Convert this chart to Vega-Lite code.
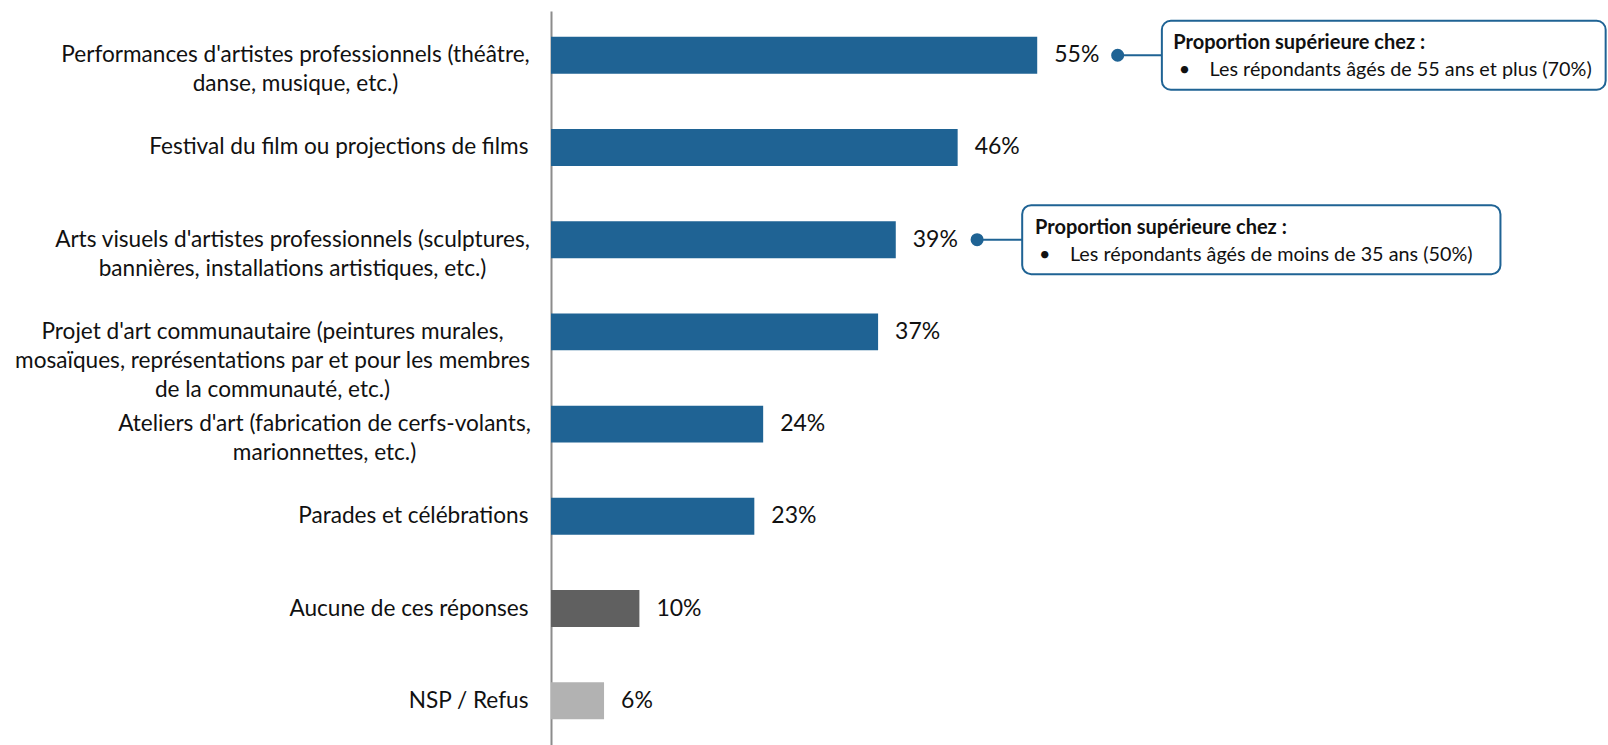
{
  "$schema": "https://vega.github.io/schema/vega-lite/v6.json",
  "width": 1052,
  "height": 734,
  "autosize": {"type": "none"},
  "padding": {"left": 551, "top": 11, "right": 5, "bottom": 0},
  "background": "white",
  "config": {"view": {"stroke": null}, "font": "Lato"},
  "datasets": {
    "bars": [
      {"item": "Performances d'artistes professionnels (théâtre,|danse, musique, etc.)", "share": 0.55, "group": "main"},
      {"item": "Festival du film ou projections de films", "share": 0.46, "group": "main"},
      {"item": "Arts visuels d'artistes professionnels (sculptures,|bannières, installations artistiques, etc.)", "share": 0.39, "group": "main"},
      {"item": "Projet d'art communautaire (peintures murales,|mosaïques, représentations par et pour les membres|de la communauté, etc.)", "share": 0.37, "group": "main"},
      {"item": "Ateliers d'art (fabrication de cerfs-volants,|marionnettes, etc.)", "share": 0.24, "group": "main"},
      {"item": "Parades et célébrations", "share": 0.23, "group": "main"},
      {"item": "Aucune de ces réponses", "share": 0.10, "group": "none"},
      {"item": "NSP / Refus", "share": 0.06, "group": "dk"}
    ],
    "notes": [
      {"item": "Performances d'artistes professionnels (théâtre,|danse, musique, etc.)", "dot": 0.641, "boxStart": 0.691, "boxEnd": 1.193, "titleX": 0.704, "bulletX": 0.710, "textX": 0.745, "title": "Proportion supérieure chez :", "body": "Les répondants âgés de 55 ans et plus (70%)"},
      {"item": "Arts visuels d'artistes professionnels (sculptures,|bannières, installations artistiques, etc.)", "dot": 0.482, "boxStart": 0.533, "boxEnd": 1.074, "titleX": 0.5475, "bulletX": 0.552, "textX": 0.587, "title": "Proportion supérieure chez :", "body": "Les répondants âgés de moins de 35 ans (50%)"}
    ]
  },
  "encoding": {
    "y": {
      "field": "item", "type": "nominal", "sort": null,
      "scale": {
        "domain": [
          "Performances d'artistes professionnels (théâtre,|danse, musique, etc.)",
          "Festival du film ou projections de films",
          "Arts visuels d'artistes professionnels (sculptures,|bannières, installations artistiques, etc.)",
          "Projet d'art communautaire (peintures murales,|mosaïques, représentations par et pour les membres|de la communauté, etc.)",
          "Ateliers d'art (fabrication de cerfs-volants,|marionnettes, etc.)",
          "Parades et célébrations",
          "Aucune de ces réponses",
          "NSP / Refus"
        ],
        "paddingInner": 0.6, "paddingOuter": 0.28
      },
      "axis": {
        "title": null, "labelExpr": "split(datum.value, '|')",
        "labelFontSize": 22.6, "labelLineHeight": 29,
        "labelAlign": {"condition": {"test": "indexof(datum.value, '|') >= 0", "value": "center"}, "value": "right"},
        "labelPadding": {"condition": [
          {"test": "indexof(datum.value, 'Performances') == 0", "value": 256},
          {"test": "indexof(datum.value, 'Arts visuels') == 0", "value": 259},
          {"test": "indexof(datum.value, 'Projet') == 0", "value": 279},
          {"test": "indexof(datum.value, 'Ateliers') == 0", "value": 227}
        ], "value": 23},
        "labelColor": "#111111", "labelLimit": 0, "ticks": false,
        "domainColor": "#8C8C8C", "domainWidth": 2, "labelFont": "Lato"
      }
    }
  },
  "layer": [
    {
      "data": {"name": "bars"},
      "mark": {"type": "bar"},
      "encoding": {
        "x": {"field": "share", "type": "quantitative", "scale": {"domain": [0, 1.19], "nice": false}, "axis": null},
        "color": {"field": "group", "type": "nominal", "scale": {"domain": ["main", "none", "dk"], "range": ["#1F6394", "#606060", "#B2B2B2"]}, "legend": null}
      }
    },
    {
      "data": {"name": "bars"},
      "mark": {"type": "text", "align": "left", "baseline": "middle", "dx": 17, "fontSize": 23, "color": "#111111"},
      "encoding": {
        "x": {"field": "share", "type": "quantitative"},
        "text": {"field": "share", "type": "quantitative", "format": ".0%"}
      }
    },
    {
      "data": {"name": "notes"},
      "mark": {"type": "rule", "color": "#1F6394", "strokeWidth": 2},
      "encoding": {
        "x": {"field": "dot", "type": "quantitative"},
        "x2": {"field": "boxStart"}
      }
    },
    {
      "data": {"name": "notes"},
      "mark": {"type": "point", "filled": true, "opacity": 1, "color": "#1F6394", "size": 170},
      "encoding": {
        "x": {"field": "dot", "type": "quantitative"}
      }
    },
    {
      "data": {"name": "notes"},
      "mark": {"type": "bar", "height": 69, "fill": "white", "stroke": "#1F6394", "strokeWidth": 2, "cornerRadius": 9},
      "encoding": {
        "x": {"field": "boxStart", "type": "quantitative"},
        "x2": {"field": "boxEnd"}
      }
    },
    {
      "data": {"name": "notes"},
      "mark": {"type": "text", "align": "left", "baseline": "middle", "dy": -12, "fontSize": 20, "fontWeight": "bold", "color": "#111111"},
      "encoding": {
        "x": {"field": "titleX", "type": "quantitative"},
        "text": {"field": "title"}
      }
    },
    {
      "data": {"name": "notes"},
      "mark": {"type": "text", "align": "left", "baseline": "middle", "dy": 15, "fontSize": 19.8, "color": "#111111", "text": "•"},
      "encoding": {
        "x": {"field": "bulletX", "type": "quantitative"}
      }
    },
    {
      "data": {"name": "notes"},
      "mark": {"type": "text", "align": "left", "baseline": "middle", "dy": 15, "fontSize": 19.8, "color": "#111111"},
      "encoding": {
        "x": {"field": "textX", "type": "quantitative"},
        "text": {"field": "body"}
      }
    }
  ]
}
